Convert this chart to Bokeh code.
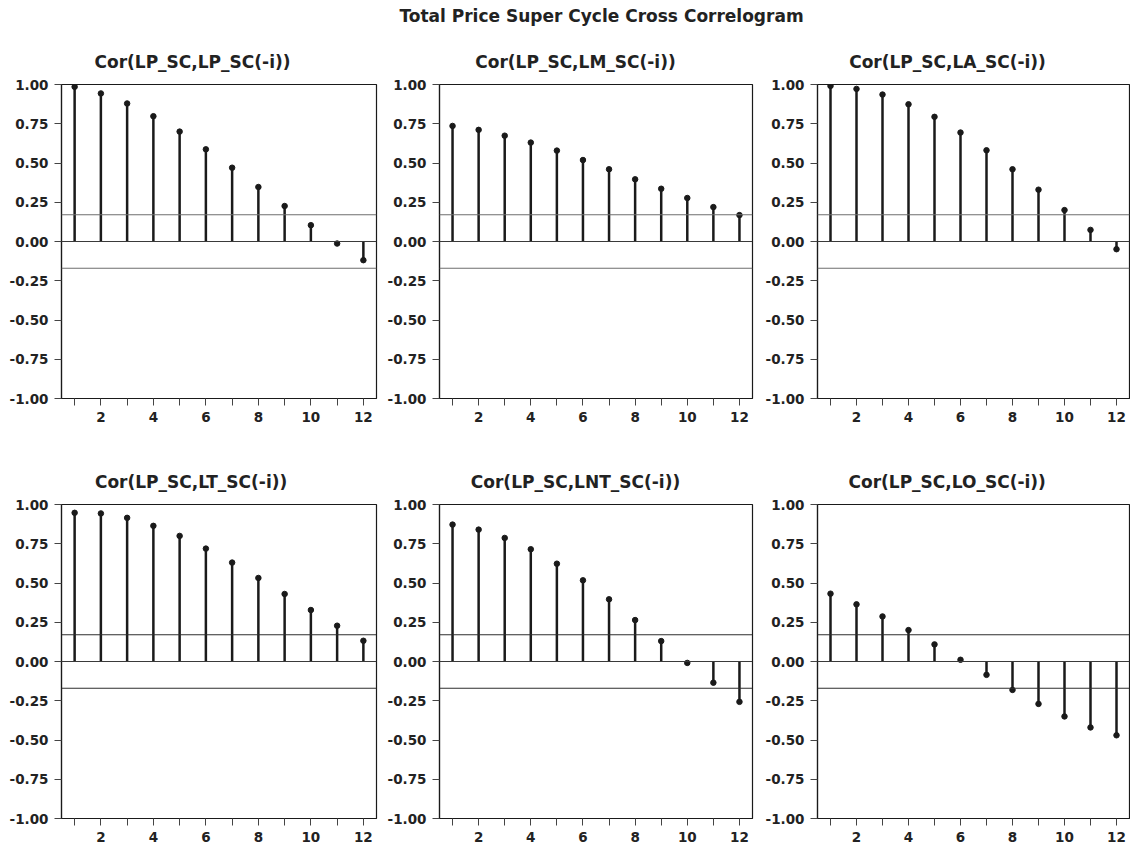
from bokeh.plotting import figure
from bokeh.layouts import column, row
from bokeh.models import Range1d, FixedTicker, PrintfTickFormatter, Span, ColumnDataSource
from bokeh.embed import file_html
from bokeh.resources import INLINE

# ---------------- data ----------------
main_title = "Total Price Super Cycle Cross Correlogram"
lags = [1, 2, 3, 4, 5, 6, 7, 8, 9, 10, 11, 12]
band = 0.17
titles = ["Cor(LP_SC,LP_SC(-i))", "Cor(LP_SC,LM_SC(-i))", "Cor(LP_SC,LA_SC(-i))",
          "Cor(LP_SC,LT_SC(-i))", "Cor(LP_SC,LNT_SC(-i))", "Cor(LP_SC,LO_SC(-i))"]
cor_lp = [0.985, 0.943, 0.879, 0.798, 0.700, 0.587, 0.470, 0.347, 0.226, 0.104, -0.013, -0.119]
cor_lm = [0.736, 0.711, 0.674, 0.630, 0.579, 0.519, 0.460, 0.396, 0.336, 0.277, 0.219, 0.168]
cor_la = [0.991, 0.972, 0.936, 0.874, 0.794, 0.694, 0.581, 0.460, 0.330, 0.200, 0.074, -0.049]
cor_lt = [0.947, 0.943, 0.915, 0.864, 0.800, 0.719, 0.630, 0.532, 0.430, 0.328, 0.228, 0.132]
cor_lnt = [0.872, 0.840, 0.787, 0.715, 0.623, 0.517, 0.396, 0.264, 0.130, -0.009, -0.135, -0.257]
cor_lo = [0.432, 0.364, 0.287, 0.200, 0.109, 0.011, -0.085, -0.181, -0.270, -0.350, -0.420, -0.470]
y_ticks = [-1.0, -0.75, -0.5, -0.25, 0.0, 0.25, 0.5, 0.75, 1.0]
x_major = [2, 4, 6, 8, 10, 12]
x_minor = [1, 3, 5, 7, 9, 11]

FONT = "DejaVu Sans"
TXT = "#222222"
INK = "#1a1a1a"
FRAME_H = 314
TITLE_PX = 17

# approximate DejaVu Sans Bold advance widths (em fractions) for centring titles
CW = {"C": .734, "o": .687, "r": .493, "(": .457, ")": .457, "L": .637, "P": .733,
      "_": .500, "S": .720, ",": .380, "-": .415, "i": .343, "M": .995, "A": .774,
      "T": .682, "N": .837, "O": .850}


def text_w(s):
    return sum(CW.get(ch, .65) for ch in s) * TITLE_PX


# column geometry: (fig width, left border, right border, title centre from frame left)
cols = [(378, 61, 2, 131), (378, 61, 4, 136), (374, 61, 1, 130)]
# row geometry: (top border, bottom border, band colour)
rows = [(50, 30, "#6e6e6e"), (76, 26, "#2e2e2e")]


def make_panel(title, vals, col, rw):
    width, left, right, tcen = col
    top, bottom, band_color = rw
    p = figure(width=width, height=top + FRAME_H + bottom,
               x_range=Range1d(0.5, 12.5), y_range=Range1d(-1, 1),
               output_backend="svg", toolbar_location=None,
               min_border_left=left, min_border_right=right,
               min_border_top=top, min_border_bottom=bottom)
    p.grid.visible = False
    p.background_fill_color = "white"
    p.border_fill_color = "white"
    p.outline_line_color = INK
    p.outline_line_width = 1.2

    p.title.text = title
    p.title.align = "left"
    p.title.offset = tcen - text_w(title) / 2
    p.title.vertical_align = "bottom"
    p.title.standoff = 26
    p.title.text_font = FONT
    p.title.text_font_style = "bold"
    p.title.text_font_size = f"{TITLE_PX}px"
    p.title.text_color = TXT

    # axes
    p.yaxis.ticker = FixedTicker(ticks=y_ticks, minor_ticks=[])
    p.yaxis.formatter = PrintfTickFormatter(format="%.2f")
    p.xaxis.ticker = FixedTicker(ticks=x_major, minor_ticks=x_minor)
    for ax in (p.xaxis[0], p.yaxis[0]):
        ax.axis_line_color = INK
        ax.axis_line_width = 1.2
        ax.major_tick_line_color = "#444444"
        ax.minor_tick_line_color = "#444444"
        ax.major_tick_in = 0
        ax.major_tick_out = 7
        ax.minor_tick_in = 0
        ax.minor_tick_out = 7
        ax.major_label_text_font = FONT
        ax.major_label_text_font_style = "bold"
        ax.major_label_text_font_size = "13.5px"
        ax.major_label_text_color = TXT
        ax.major_label_standoff = 6

    # reference lines
    for loc, colr in ((band, band_color), (-band, band_color), (0.0, "#3a3a3a")):
        p.add_layout(Span(location=loc, dimension="width", line_color=colr, line_width=1.1))

    src = ColumnDataSource(dict(x=lags, y=vals, zero=[0.0] * len(lags)))
    p.segment(x0="x", y0="zero", x1="x", y1="y", source=src, line_color=INK, line_width=2.5)
    p.scatter(x="x", y="y", source=src, size=5.5, color=INK)
    return p


series = [cor_lp, cor_lm, cor_la, cor_lt, cor_lnt, cor_lo]
panels = [make_panel(t, v, cols[i % 3], rows[i // 3]) for i, (t, v) in enumerate(zip(titles, series))]

# header carrying the main title
header = figure(width=1130, height=34, x_range=Range1d(0, 1), y_range=Range1d(0, 1),
                x_axis_location=None, y_axis_location=None,
                output_backend="svg", toolbar_location=None,
                min_border_left=72, min_border_right=0, min_border_top=0, min_border_bottom=0)
header.grid.visible = False
header.outline_line_color = None
header.title.text = main_title
header.title.align = "center"
header.title.vertical_align = "middle"
header.title.standoff = 8
header.title.text_font = FONT
header.title.text_font_style = "bold"
header.title.text_font_size = "17px"
header.title.text_color = TXT

layout = column(header, row(*panels[:3]), row(*panels[3:]))
open("out.html", "w").write(file_html(layout, INLINE))
